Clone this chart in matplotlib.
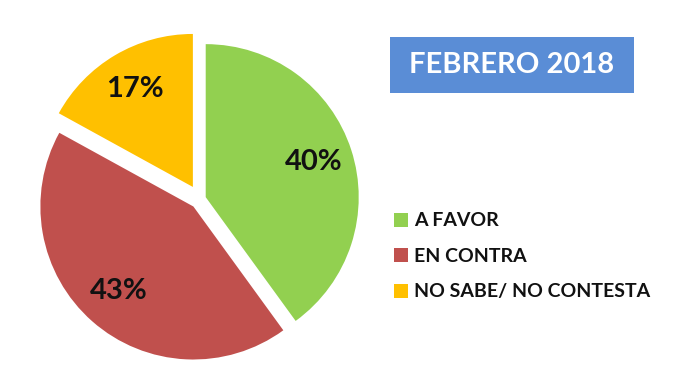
import matplotlib
matplotlib.use("Agg")
import matplotlib.pyplot as plt
from matplotlib.patches import Rectangle

labels = ["A FAVOR", "EN CONTRA", "NO SABE/ NO CONTESTA"]
values = [40, 43, 17]
colors = ["#92D050", "#C0504D", "#FFC000"]
explode_px = [6, 10, 14]
title = "FEBRERO 2018"

W, H = 700, 383
R = 153
fig = plt.figure(figsize=(W / 100, H / 100), dpi=100)
ax = fig.add_axes([0, 0, 1, 1])

wedges, texts, autotexts = ax.pie(
    values, colors=colors, startangle=90, counterclock=False,
    explode=explode_px, radius=R, center=(200, H - 199),
    autopct="%d%%", pctdistance=0.74, frame=True,
    wedgeprops=dict(linewidth=0),
    textprops=dict(fontfamily="Lato", fontweight="bold", fontsize=21, color="#111111"))
ax.set_xlim(0, W)
ax.set_ylim(0, H)
ax.set_aspect("equal")
ax.axis("off")

ax.add_patch(Rectangle((390, H - 93), 244, 56, facecolor="#5A8DD6", edgecolor="none"))
ax.text(512, H - 65, title, ha="center", va="center", color="white",
        fontfamily="Lato", fontweight="bold", fontsize=21)

leg = ax.legend(wedges, labels, loc="upper left", bbox_to_anchor=(376 / W, 1 - 195 / H),
                frameon=False, handlelength=0.75, handleheight=0.75, handletextpad=0.3,
                labelspacing=0.95,
                prop=dict(family="Lato", weight="bold", size=14))
for t in leg.get_texts():
    t.set_color("#111111")

fig.savefig("out.png", dpi=100)
